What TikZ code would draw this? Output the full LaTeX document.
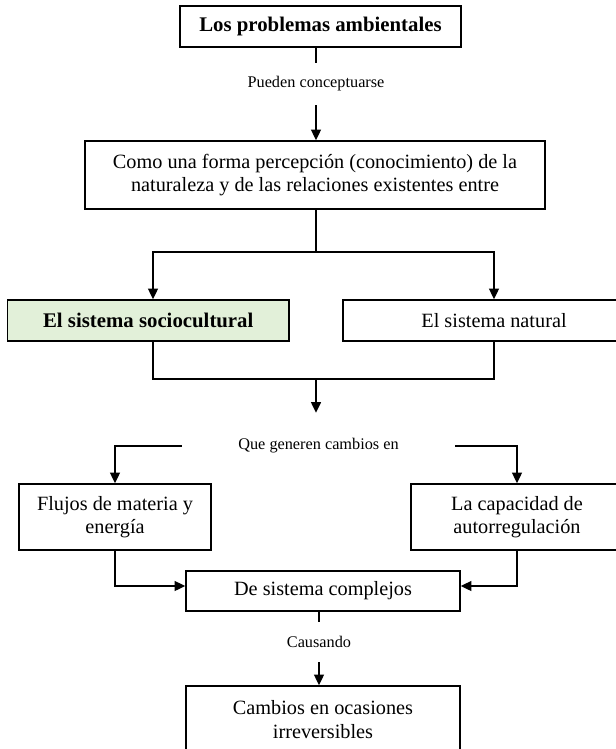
\documentclass[tikz,border=0pt]{standalone}
\usepackage{fontspec}
\setmainfont{Liberation Serif}
\usetikzlibrary{arrows.meta}
\definecolor{boxgreen}{HTML}{E2F0D9}
\begin{document}
\begin{tikzpicture}[x=0.75pt,y=-0.75pt,
  box/.style={draw=black, line width=1.2pt, fill=white, inner sep=0pt, align=center,
    font=\fontsize{15.2}{17.6}\selectfont},
  boldbox/.style={box, font=\fontsize{15.6}{18}\selectfont\bfseries},
  lbl/.style={inner sep=0pt, font=\fontsize{12.2}{14}\selectfont},
  conn/.style={line width=1.1pt, draw=black},
  arr/.style={conn, -{Triangle[length=8pt,width=7.5pt]}}]
\useasboundingbox[fill=white] (0,0) rectangle (616,749);

% boxes
\node[boldbox, minimum width=210.75pt, minimum height=30.75pt] (top) at (320.5,26.5) {Los problemas ambientales};
\node[box, minimum width=345pt, minimum height=51pt] (box2) at (315,175)
  {Como una forma percepción (conocimiento) de la\\naturaleza y de las relaciones existentes entre};
\node[boldbox, fill=boxgreen, minimum width=211.1pt, minimum height=30.75pt] (socio) at (148.25,320.5) {El sistema sociocultural};
\node[box, minimum width=226.5pt, minimum height=30.75pt] (natural) at (494,320.5) {El sistema natural\hspace*{0pt}};
\node[box, minimum width=144pt, minimum height=49.5pt] (flujos) at (115,517) {Flujos de materia y\\energía};
\node[box, minimum width=159pt, minimum height=49.5pt] (capac) at (517,517) {La capacidad de\\autorregulación};
\node[box, minimum width=205.5pt, minimum height=30pt] (desist) at (323,591) {De sistema complejos};
\node[box, minimum width=205.5pt, minimum height=50.25pt] (cambios) at (323,719.5) {Cambios en ocasiones\\irreversibles};

% labels
\node[lbl, minimum height=31.5pt] (lbl1) at (316,84) {Pueden conceptuarse};
\node[lbl, minimum width=204.75pt, minimum height=49.5pt] (lbl2) at (318.5,446) {Que generen cambios en};
\node[lbl, minimum height=30pt] (lbl3) at (319,642) {Causando};

% helper coordinates
\coordinate (xL) at (153,0);
\coordinate (j1) at (316,252);
\coordinate (j2) at (316,379);
\coordinate (yA) at (0,586);

% connectors
\draw[conn] (top.south -| lbl1.north) -- (lbl1.north);
\draw[arr] (lbl1.south) -- (lbl1.south |- box2.north);
\draw[conn] (box2.south -| j1) -- (j1);
\draw[arr] (j1) -| (xL |- socio.north);
\draw[arr] (j1) -| (natural.north);
\draw[conn] (xL |- socio.south) -- (xL |- j2) -- (j2 -| natural.south) -- (natural.south);
\draw[arr] (j2) -- (j2 |- lbl2.north);
\draw[arr] (lbl2.west) -| (flujos.north);
\draw[arr] (lbl2.east) -| (capac.north);
\draw[arr] (flujos.south) |- (desist.west |- yA);
\draw[arr] (capac.south) |- (desist.east |- yA);
\draw[conn] (desist.south -| lbl3.north) -- (lbl3.north);
\draw[arr] (lbl3.south) -- (lbl3.south |- cambios.north);
\end{tikzpicture}
\end{document}
